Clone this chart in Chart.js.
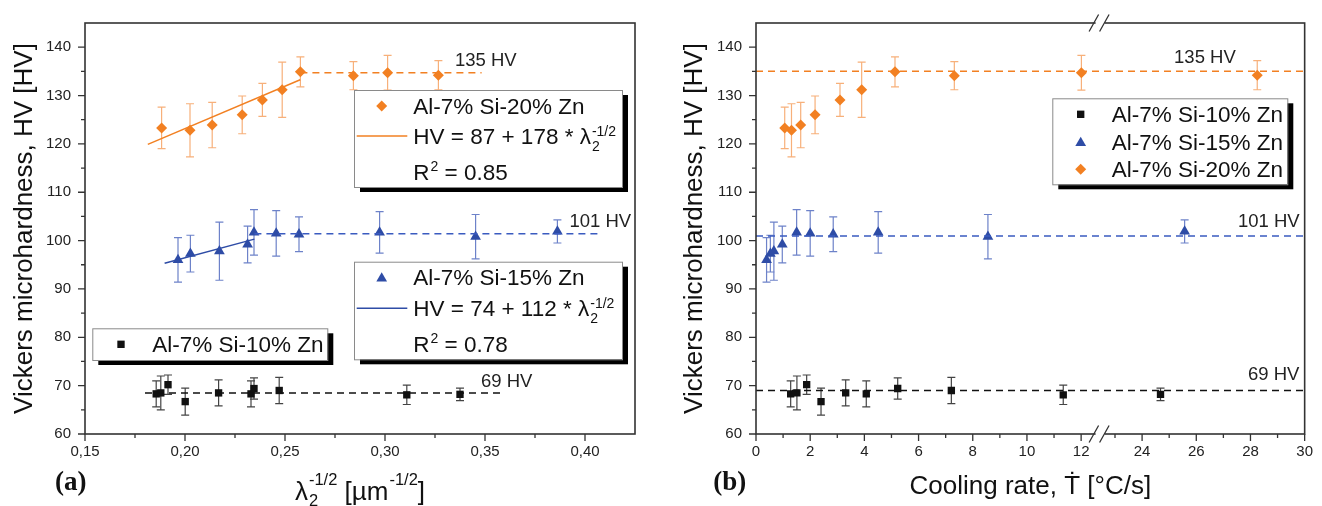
<!DOCTYPE html>
<html>
<head>
<meta charset="utf-8">
<title>Vickers microhardness vs. lambda2 and cooling rate</title>
<script src="https://cdn.jsdelivr.net/npm/chart.js@4.4.1/dist/chart.umd.min.js"></script>
<style>
    html, body { margin: 0; padding: 0; background: #fff; }
    #wrap { position: relative; width: 1322px; height: 506px; overflow: hidden; }
    canvas { position: absolute; top: 0; }
    #chartA { left: 0; }
    #chartB { left: 670px; }
</style>
</head>
<body>
<div id="wrap">
    <canvas id="chartA" width="661" height="506"></canvas>
    <canvas id="chartB" width="652" height="506"></canvas>
</div>
<script>
// ---- data ----
// Al-7% Si-20% Zn
const hv20 = [123.3, 122.8, 123.9, 126.0, 129.1, 131.2, 134.9, 134.1, 134.7, 134.2];
const err20 = [4.3, 5.5, 4.7, 3.9, 3.4, 5.7, 3.1, 2.9, 3.6, 3.0];
const lam20 = [0.1883, 0.2025, 0.2136, 0.2286, 0.2387, 0.2486, 0.2577, 0.2842, 0.3013, 0.3267];
const rate20 = [1.06, 1.31, 1.65, 2.18, 3.10, 3.90, 5.13, 7.32, 12.01, 28.25];

// Al-7% Si-15% Zn
const hv15 = [96.0, 97.3, 97.8, 99.2, 101.7, 101.5, 101.3, 101.7, 100.8, 101.9];
const err15 = [4.6, 3.8, 6.0, 3.8, 4.7, 4.7, 3.6, 4.3, 4.6, 2.4];
const lam15 = [0.1965, 0.2027, 0.2172, 0.2313, 0.2345, 0.2456, 0.2570, 0.2973, 0.3453, 0.3862];
const rate15 = [0.39, 0.53, 0.66, 0.97, 1.50, 2.00, 2.85, 4.51, 8.56, 25.57];

// Al-7% Si-10% Zn
const hv10 = [68.3, 68.5, 70.2, 66.7, 68.5, 68.3, 69.4, 69.0, 68.1, 68.2];
const err10 = [2.7, 3.5, 2.0, 2.8, 2.7, 2.7, 2.2, 2.7, 2.0, 1.3];
const lam10 = [0.1856, 0.1879, 0.1915, 0.2001, 0.2168, 0.2330, 0.2345, 0.2471, 0.3109, 0.3375];
const rate10 = [1.28, 1.51, 1.87, 2.40, 3.31, 4.07, 5.23, 7.21, 11.34, 24.68];

// linear fits (end points) and plateau lines, panel (a)
const fitLam20 = [0.1814, 0.2576];
const fitHv20 = [119.9, 133.25];
const fitLam15 = [0.1898, 0.2347];
const fitHv15 = [95.3, 100.3];
const platLam20 = [0.2577, 0.3483];
const platLam15 = [0.2347, 0.4083];
const platLam10 = [0.1800, 0.3595];
const platHvA = [134.7, 101.4, 68.5];   // 20, 15, 10 % Zn

// plateau lines, panel (b)
const platRateB = [0, 30];
const platHvB = [135.0, 100.95, 69.0];

// axes
const yTicks = [60, 70, 80, 90, 100, 110, 120, 130, 140];
const yMinor = [65, 75, 85, 95, 105, 115, 125, 135];
const xTicksA = [0.15, 0.20, 0.25, 0.30, 0.35, 0.40];
const xMinorA = [0.175, 0.225, 0.275, 0.325, 0.375];
const xTicksB = [0, 2, 4, 6, 8, 10, 12, 24, 26, 28, 30];
const xMinorB = [1, 3, 5, 7, 9, 11, 23, 25, 27, 29];

// broken axis in (b): 12.7 .. 22.45 is cut out
const BRK_LO = 12.7;
const BRK_HI = 22.45;
const brk = v => v <= BRK_LO ? v : v - (BRK_HI - BRK_LO);

// ---- styles ----
const SANS = '"Liberation Sans", Arial, sans-serif';
const SERIF = '"Liberation Serif", "Times New Roman", serif';
const colors = {
    orange: '#F28022',
    orangeErr: '#F7B07A',
    blue: '#2E4CA6',
    blueErr: '#6D82C9',
    blueDash: '#3A5BC0',
    black: '#111111',
    blackErr: '#444444',
    axis: '#333333'
};
const series = {
    s20: { label: 'Al-7% Si-20% Zn', shape: 'rectRot', r: 5.5, color: colors.orange, err: colors.orangeErr },
    s15: { label: 'Al-7% Si-15% Zn', shape: 'triangle', r: 6.2, color: colors.blue, err: colors.blueErr },
    s10: { label: 'Al-7% Si-10% Zn', shape: 'rect', r: 5.2, color: colors.black, err: colors.blackErr }
};

function pairs(xs, ys) {
    return xs.map((x, i) => ({ x: x, y: ys[i] }));
}

function pointSet(s, xs, ys, errs) {
    return {
        label: s.label,
        data: pairs(xs, ys),
        showLine: false,
        pointStyle: s.shape,
        pointRadius: s.r,
        pointHoverRadius: s.r,
        backgroundColor: s.color,
        borderColor: s.color,
        borderWidth: 0,
        errorBars: errs,
        errColor: s.err
    };
}

function lineSet(xs, ys, color, dash) {
    return {
        data: pairs(xs, ys),
        showLine: true,
        pointRadius: 0,
        borderColor: color,
        borderWidth: 1.5,
        borderDash: dash || [],
        fill: false
    };
}

// ---- plugins ----
const errorBars = {
    id: 'errorBars',
    beforeDatasetsDraw(chart) {
        const { ctx, scales: { x, y } } = chart;
        chart.data.datasets.forEach(ds => {
            if (!ds.errorBars) return;
            ctx.save();
            ctx.strokeStyle = ds.errColor;
            ctx.lineWidth = 1.2;
            ds.data.forEach((p, i) => {
                const px = x.getPixelForValue(p.x);
                const top = y.getPixelForValue(p.y + ds.errorBars[i]);
                const bot = y.getPixelForValue(p.y - ds.errorBars[i]);
                ctx.beginPath();
                ctx.moveTo(px, top); ctx.lineTo(px, bot);
                ctx.moveTo(px - 4, top); ctx.lineTo(px + 4, top);
                ctx.moveTo(px - 4, bot); ctx.lineTo(px + 4, bot);
                ctx.stroke();
            });
            ctx.restore();
        });
    }
};

function framePlugin(xMajor, xMinor) {
    return {
        id: 'frame',
        afterDatasetsDraw(chart) {
            const { ctx, chartArea: a, scales: { x, y } } = chart;
            ctx.save();
            ctx.strokeStyle = colors.axis;
            ctx.lineWidth = 1.6;
            ctx.strokeRect(a.left, a.top, a.right - a.left, a.bottom - a.top);
            ctx.lineWidth = 1.3;
            ctx.beginPath();
            xMajor.forEach(v => {
                const px = x.getPixelForValue(v);
                ctx.moveTo(px, a.bottom); ctx.lineTo(px, a.bottom + 7);
            });
            xMinor.forEach(v => {
                const px = x.getPixelForValue(v);
                ctx.moveTo(px, a.bottom); ctx.lineTo(px, a.bottom + 4);
            });
            yTicks.forEach(v => {
                const py = y.getPixelForValue(v);
                ctx.moveTo(a.left, py); ctx.lineTo(a.left - 7, py);
            });
            yMinor.forEach(v => {
                const py = y.getPixelForValue(v);
                ctx.moveTo(a.left, py); ctx.lineTo(a.left - 4, py);
            });
            ctx.stroke();
            ctx.restore();
        }
    };
}

// text with optional stacked sub/superscripts
function richWidth(ctx, parts) {
    let w = 0;
    parts.forEach(p => {
        if (p.t !== undefined) {
            ctx.font = p.size + 'px ' + SANS;
            w += ctx.measureText(p.t).width;
        } else {
            ctx.font = p.size + 'px ' + SANS;
            w += Math.max(ctx.measureText(p.sub || '').width, ctx.measureText(p.sup || '').width) + 1;
        }
    });
    return w;
}

function drawRich(ctx, parts, x, base) {
    ctx.textBaseline = 'alphabetic';
    ctx.textAlign = 'left';
    parts.forEach(p => {
        ctx.font = p.size + 'px ' + SANS;
        if (p.t !== undefined) {
            ctx.fillText(p.t, x, base);
            x += ctx.measureText(p.t).width;
        } else {
            let w = 0;
            if (p.sub) {
                ctx.fillText(p.sub, x + 1, base + p.down);
                w = Math.max(w, ctx.measureText(p.sub).width);
            }
            if (p.sup) {
                ctx.fillText(p.sup, x + 1, base - p.up);
                w = Math.max(w, ctx.measureText(p.sup).width);
            }
            x += w + 1;
        }
    });
}

const LEG = 22.5;
function legendBox(ctx, x, y, w, h) {
    ctx.fillStyle = '#000';
    ctx.fillRect(x + 6, y + 5, w, h);
    ctx.fillStyle = '#fff';
    ctx.fillRect(x, y, w, h);
    ctx.strokeStyle = '#8a8a8a';
    ctx.lineWidth = 1;
    ctx.strokeRect(x + 0.5, y + 0.5, w, h);
}

function legendMarker(ctx, s, x, y) {
    ctx.fillStyle = s.color;
    Chart.helpers.drawPoint(ctx, { pointStyle: s.shape, radius: s.r, rotation: 0, borderWidth: 0 }, x, y);
}

function legendText(ctx, text, x, rowY) {
    ctx.fillStyle = '#111';
    drawRich(ctx, [{ t: text, size: LEG }], x, rowY + LEG * 0.358);
}

function hvLabel(ctx, text, px, py) {
    ctx.fillStyle = '#222';
    ctx.font = '18.5px ' + SANS;
    ctx.textAlign = 'left';
    ctx.textBaseline = 'middle';
    ctx.fillText(text, px, py);
}

const lambdaSub = { sub: '2', sup: '-1/2', size: 14, down: 7, up: 8 };

const decorA = {
    id: 'decorA',
    afterDatasetsDraw(chart) {
        const { ctx, chartArea: a, scales: { x, y } } = chart;
        ctx.save();

        // value labels next to the plateau lines
        hvLabel(ctx, '135 HV', x.getPixelForValue(0.335), y.getPixelForValue(137.1));
        hvLabel(ctx, '101 HV', x.getPixelForValue(0.3922), y.getPixelForValue(103.8));
        hvLabel(ctx, '69 HV', x.getPixelForValue(0.348), y.getPixelForValue(70.7));

        // legend 20 % Zn with fit
        legendBox(ctx, 354, 90, 268, 97);
        legendMarker(ctx, series.s20, 381.7, 106);
        legendText(ctx, series.s20.label, 413.3, 106);
        ctx.strokeStyle = colors.orange; ctx.lineWidth = 1.5;
        ctx.beginPath(); ctx.moveTo(356.7, 136); ctx.lineTo(407.3, 136); ctx.stroke();
        ctx.fillStyle = '#111';
        drawRich(ctx, [{ t: 'HV = 87 + 178 * \u03bb', size: LEG }, lambdaSub], 413.3, 136 + LEG * 0.358);
        drawRich(ctx, [{ t: 'R', size: LEG }, { sup: '2', size: 14, up: 9 }, { t: ' = 0.85', size: LEG }], 413.3, 171.7 + LEG * 0.358);

        // legend 15 % Zn with fit
        legendBox(ctx, 354, 261.7, 268, 97.6);
        legendMarker(ctx, series.s15, 381.7, 278.5);
        legendText(ctx, series.s15.label, 413.3, 277.3);
        ctx.strokeStyle = colors.blue; ctx.lineWidth = 1.5;
        ctx.beginPath(); ctx.moveTo(356.7, 308.3); ctx.lineTo(407.3, 308.3); ctx.stroke();
        ctx.fillStyle = '#111';
        drawRich(ctx, [{ t: 'HV = 74 + 112 * \u03bb', size: LEG }, lambdaSub], 413.3, 308.3 + LEG * 0.358);
        drawRich(ctx, [{ t: 'R', size: LEG }, { sup: '2', size: 14, up: 9 }, { t: ' = 0.78', size: LEG }], 413.3, 344.3 + LEG * 0.358);

        // legend 10 % Zn
        legendBox(ctx, 92.3, 328.3, 235, 31.7);
        legendMarker(ctx, series.s10, 121, 344.3);
        legendText(ctx, series.s10.label, 152.3, 344.3);

        // x-axis title with sub/superscripts
        ctx.fillStyle = '#111';
        const title = [
            { t: '\u03bb', size: 26 },
            { sub: '2', sup: '-1/2', size: 16.5, down: 6, up: 15 },
            { t: ' [\u00b5m', size: 26 },
            { sup: '-1/2', size: 16.5, up: 15 },
            { t: ']', size: 26 }
        ];
        const tw = richWidth(ctx, title);
        drawRich(ctx, title, (a.left + a.right) / 2 - tw / 2, 500);

        // panel letter
        ctx.font = 'bold 27px ' + SERIF;
        ctx.textBaseline = 'alphabetic';
        ctx.fillText('(a)', 55, 490);
        ctx.restore();
    }
};

const decorB = {
    id: 'decorB',
    afterDatasetsDraw(chart) {
        const { ctx, chartArea: a, scales: { x, y } } = chart;
        ctx.save();

        // axis break marks
        const bx = x.getPixelForValue(BRK_LO);
        [a.bottom, a.top].forEach(ay => {
            ctx.fillStyle = '#fff';
            ctx.fillRect(bx - 4.5, ay - 2, 9, 4);
            ctx.strokeStyle = colors.axis;
            ctx.lineWidth = 1.3;
            ctx.beginPath();
            ctx.moveTo(bx - 11, ay + 8.5); ctx.lineTo(bx - 1.5, ay - 8.5);
            ctx.moveTo(bx - 0.5, ay + 8.5); ctx.lineTo(bx + 9, ay - 8.5);
            ctx.stroke();
        });

        hvLabel(ctx, '135 HV', x.getPixelForValue(brk(25.18)), y.getPixelForValue(137.7));
        hvLabel(ctx, '101 HV', x.getPixelForValue(brk(27.54)), y.getPixelForValue(103.9));
        hvLabel(ctx, '69 HV', x.getPixelForValue(brk(27.91)), y.getPixelForValue(72.2));

        legendBox(ctx, 382.3, 98.3, 235, 86);
        [[series.s10, 114.3], [series.s15, 141.7], [series.s20, 169.3]].forEach(([s, ry]) => {
            legendMarker(ctx, s, 410.7, s.shape === 'triangle' ? ry + 1.2 : ry);
            legendText(ctx, s.label, 441.7, ry);
        });

        ctx.fillStyle = '#111';
        ctx.font = 'bold 27px ' + SERIF;
        ctx.textBaseline = 'alphabetic';
        ctx.textAlign = 'left';
        ctx.fillText('(b)', 43.3, 490);
        ctx.restore();
    }
};

// ---- shared axis options ----
function yAxis(width) {
    return {
        type: 'linear',
        min: 60,
        max: 145,
        afterFit: s => { s.width = width; },
        afterBuildTicks: s => { s.ticks = yTicks.map(v => ({ value: v })); },
        grid: { display: false, drawTicks: false },
        border: { display: false },
        ticks: { padding: 14, color: '#222', font: { family: SANS, size: 15 } },
        title: {
            display: true,
            text: 'Vickers microhardness, HV [HV]',
            color: '#111',
            font: { family: SANS, size: 26 },
            padding: { top: 9, bottom: 0 }
        }
    };
}

function baseOptions(rightPad, xScale, yWidth) {
    return {
        responsive: false,
        animation: false,
        devicePixelRatio: 1,
        layout: { padding: { top: 12, right: rightPad, left: 0, bottom: 0 } },
        plugins: { legend: { display: false }, tooltip: { enabled: false } },
        scales: { x: xScale, y: yAxis(yWidth) }
    };
}

// ---- panel (a) ----
new Chart(document.getElementById('chartA'), {
    type: 'scatter',
    data: {
        datasets: [
            lineSet(fitLam20, fitHv20, colors.orange),
            lineSet(fitLam15, fitHv15, colors.blue),
            lineSet(platLam20, [platHvA[0], platHvA[0]], colors.orange, [7, 5]),
            lineSet(platLam15, [platHvA[1], platHvA[1]], colors.blueDash, [7, 5]),
            lineSet(platLam10, [platHvA[2], platHvA[2]], colors.black, [7, 5]),
            pointSet(series.s10, lam10, hv10, err10),
            pointSet(series.s15, lam15, hv15, err15),
            pointSet(series.s20, lam20, hv20, err20)
        ]
    },
    options: baseOptions(26, {
        type: 'linear',
        min: 0.15,
        max: 0.425,
        afterFit: s => { s.height = 72; },
        afterBuildTicks: s => { s.ticks = xTicksA.map(v => ({ value: v })); },
        grid: { display: false, drawTicks: false },
        border: { display: false },
        ticks: {
            padding: 9,
            color: '#222',
            font: { family: SANS, size: 15 },
            callback: v => v.toFixed(2).replace('.', ',')
        }
    }, 85),
    plugins: [errorBars, framePlugin(xTicksA, xMinorA), decorA]
});

// ---- panel (b) ----
const brkAll = xs => xs.map(brk);
new Chart(document.getElementById('chartB'), {
    type: 'scatter',
    data: {
        datasets: [
            lineSet(brkAll(platRateB), [platHvB[0], platHvB[0]], colors.orange, [7, 5]),
            lineSet(brkAll(platRateB), [platHvB[1], platHvB[1]], colors.blueDash, [7, 5]),
            lineSet(brkAll(platRateB), [platHvB[2], platHvB[2]], colors.black, [7, 5]),
            pointSet(series.s10, brkAll(rate10), hv10, err10),
            pointSet(series.s15, brkAll(rate15), hv15, err15),
            pointSet(series.s20, brkAll(rate20), hv20, err20)
        ]
    },
    options: baseOptions(16, {
        type: 'linear',
        min: 0,
        max: brk(30),
        afterFit: s => { s.height = 72; },
        afterBuildTicks: s => { s.ticks = xTicksB.map(v => ({ value: brk(v) })); },
        grid: { display: false, drawTicks: false },
        border: { display: false },
        ticks: {
            padding: 9,
            color: '#222',
            font: { family: SANS, size: 15 },
            callback: (v, i) => String(xTicksB[i])
        },
        title: {
            display: true,
            text: 'Cooling rate, \u1e6a [\u00b0C/s]',
            color: '#111',
            font: { family: SANS, size: 26 },
            padding: { top: 0, bottom: 4 }
        }
    }, 86),
    plugins: [errorBars, framePlugin(brkAll(xTicksB), brkAll(xMinorB)), decorB]
});
</script>
</body>
</html>
